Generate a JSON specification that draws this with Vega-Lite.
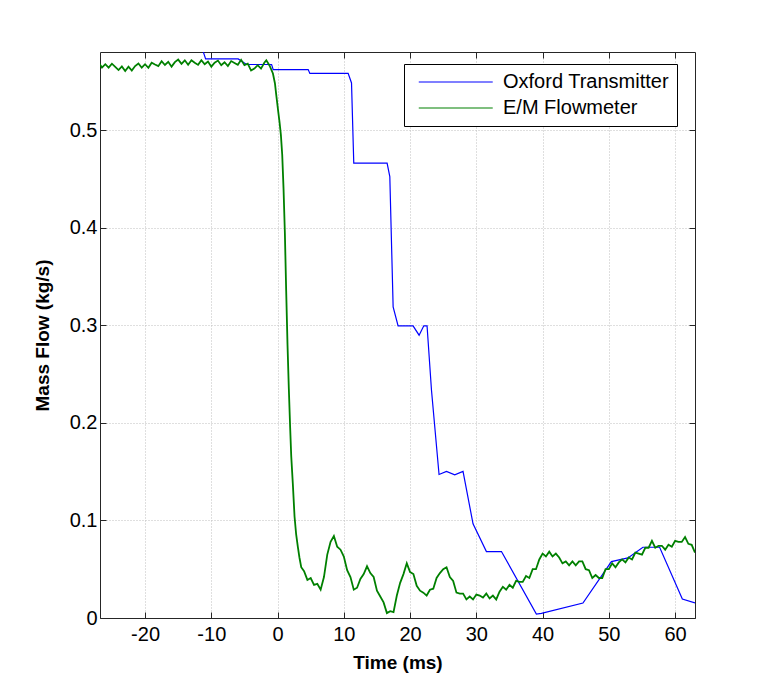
{
  "$schema": "https://vega.github.io/schema/vega-lite/v6.json",
  "width": 595,
  "height": 566,
  "autosize": {"type": "none"},
  "padding": {"left": 100, "top": 52, "right": 73, "bottom": 76},
  "background": "white",
  "datasets": {
    "blue": [
      {"t": -11.3, "v": 0.582},
      {"t": -10.86, "v": 0.5729},
      {"t": -5.94, "v": 0.5729},
      {"t": -4.68, "v": 0.5672},
      {"t": -0.9, "v": 0.5672},
      {"t": -0.66, "v": 0.562},
      {"t": 4.62, "v": 0.562},
      {"t": 4.87, "v": 0.5581},
      {"t": 10.65, "v": 0.5581},
      {"t": 11.16, "v": 0.5483},
      {"t": 11.5, "v": 0.4661},
      {"t": 16.53, "v": 0.4661},
      {"t": 16.94, "v": 0.4524},
      {"t": 17.44, "v": 0.3189},
      {"t": 18.19, "v": 0.2994},
      {"t": 20.45, "v": 0.2994},
      {"t": 21.36, "v": 0.2898},
      {"t": 22.07, "v": 0.2994},
      {"t": 22.56, "v": 0.2994},
      {"t": 23.23, "v": 0.2334},
      {"t": 24.37, "v": 0.1471},
      {"t": 25.49, "v": 0.1502},
      {"t": 26.74, "v": 0.1468},
      {"t": 27.99, "v": 0.1502},
      {"t": 29.5, "v": 0.0965},
      {"t": 31.52, "v": 0.0681},
      {"t": 33.79, "v": 0.0681},
      {"t": 39.06, "v": 0.0041},
      {"t": 39.82, "v": 0.0047},
      {"t": 46.09, "v": 0.0154},
      {"t": 50.38, "v": 0.0578},
      {"t": 52.88, "v": 0.0616},
      {"t": 55.14, "v": 0.0725},
      {"t": 57.66, "v": 0.0725},
      {"t": 61.09, "v": 0.0195},
      {"t": 63.0, "v": 0.0154}
    ],
    "green": [
      {"t": -27, "v": 0.569}, {"t": -26.5, "v": 0.564}, {"t": -26, "v": 0.5675}, {"t": -25.5, "v": 0.564},
      {"t": -25, "v": 0.568}, {"t": -24.5, "v": 0.5648}, {"t": -24, "v": 0.5615}, {"t": -23.5, "v": 0.5652},
      {"t": -23, "v": 0.5605}, {"t": -22.5, "v": 0.565}, {"t": -22, "v": 0.561}, {"t": -21.5, "v": 0.5656},
      {"t": -21, "v": 0.5682}, {"t": -20.5, "v": 0.5639}, {"t": -20, "v": 0.5675}, {"t": -19.5, "v": 0.5638},
      {"t": -19, "v": 0.569}, {"t": -18.5, "v": 0.5672}, {"t": -18, "v": 0.5655}, {"t": -17.5, "v": 0.5706},
      {"t": -17, "v": 0.5667}, {"t": -16.5, "v": 0.5699}, {"t": -16, "v": 0.565}, {"t": -15.5, "v": 0.5696},
      {"t": -15, "v": 0.5722}, {"t": -14.5, "v": 0.5679}, {"t": -14, "v": 0.5715}, {"t": -13.5, "v": 0.567},
      {"t": -13, "v": 0.5715}, {"t": -12.5, "v": 0.569}, {"t": -12, "v": 0.5668}, {"t": -11.5, "v": 0.5716},
      {"t": -11, "v": 0.5674}, {"t": -10.5, "v": 0.5702}, {"t": -10, "v": 0.565}, {"t": -9.5, "v": 0.5691},
      {"t": -9, "v": 0.5712}, {"t": -8.5, "v": 0.5664}, {"t": -8, "v": 0.5695}, {"t": -7.5, "v": 0.5656},
      {"t": -7, "v": 0.5707}, {"t": -6.5, "v": 0.5688}, {"t": -6, "v": 0.5669}, {"t": -5.5, "v": 0.572},
      {"t": -5, "v": 0.5665}, {"t": -4.5, "v": 0.568}, {"t": -4, "v": 0.561}, {"t": -3.5, "v": 0.563},
      {"t": -3, "v": 0.5665}, {"t": -2.5, "v": 0.563}, {"t": -2, "v": 0.569}, {"t": -1.7, "v": 0.5715},
      {"t": -1.2, "v": 0.566}, {"t": -0.7, "v": 0.558}, {"t": -0.4, "v": 0.548}, {"t": -0.2, "v": 0.536},
      {"t": 0.1, "v": 0.519}, {"t": 0.3, "v": 0.508}, {"t": 0.5, "v": 0.495}, {"t": 0.7, "v": 0.475},
      {"t": 0.9, "v": 0.44}, {"t": 1.1, "v": 0.395}, {"t": 1.3, "v": 0.335}, {"t": 1.5, "v": 0.28},
      {"t": 1.7, "v": 0.235}, {"t": 1.9, "v": 0.195}, {"t": 2.06, "v": 0.166}, {"t": 2.3, "v": 0.138},
      {"t": 2.56, "v": 0.104}, {"t": 2.8, "v": 0.086}, {"t": 3.06, "v": 0.073}, {"t": 3.3, "v": 0.062},
      {"t": 3.57, "v": 0.052},
      {"t": 4.0, "v": 0.048}, {"t": 4.5, "v": 0.039}, {"t": 5.0, "v": 0.041}, {"t": 5.5, "v": 0.034},
      {"t": 6.0, "v": 0.035}, {"t": 6.5, "v": 0.029}, {"t": 7.0, "v": 0.042}, {"t": 7.5, "v": 0.065},
      {"t": 8.0, "v": 0.078}, {"t": 8.5, "v": 0.084}, {"t": 9.0, "v": 0.073}, {"t": 9.5, "v": 0.070},
      {"t": 10.0, "v": 0.063}, {"t": 10.5, "v": 0.049}, {"t": 11.0, "v": 0.042}, {"t": 11.5, "v": 0.029},
      {"t": 12.0, "v": 0.031}, {"t": 12.5, "v": 0.040}, {"t": 13.0, "v": 0.045}, {"t": 13.5, "v": 0.053},
      {"t": 14.0, "v": 0.046}, {"t": 14.5, "v": 0.042}, {"t": 15.0, "v": 0.028}, {"t": 15.5, "v": 0.022},
      {"t": 16.0, "v": 0.016}, {"t": 16.5, "v": 0.005}, {"t": 17.0, "v": 0.007}, {"t": 17.5, "v": 0.006},
      {"t": 18.0, "v": 0.023}, {"t": 18.5, "v": 0.036}, {"t": 19.0, "v": 0.045}, {"t": 19.5, "v": 0.056},
      {"t": 20.0, "v": 0.047}, {"t": 20.5, "v": 0.045}, {"t": 21.0, "v": 0.033}, {"t": 21.5, "v": 0.028},
      {"t": 22.0, "v": 0.026}, {"t": 22.5, "v": 0.023}, {"t": 23.0, "v": 0.029}, {"t": 23.5, "v": 0.030},
      {"t": 24.0, "v": 0.041}, {"t": 24.5, "v": 0.046}, {"t": 25.0, "v": 0.050}, {"t": 25.5, "v": 0.052},
      {"t": 26.0, "v": 0.042}, {"t": 26.5, "v": 0.038}, {"t": 27.0, "v": 0.026}, {"t": 27.5, "v": 0.025},
      {"t": 28.0, "v": 0.025}, {"t": 28.5, "v": 0.019}, {"t": 29.0, "v": 0.022}, {"t": 29.5, "v": 0.019},
      {"t": 30.0, "v": 0.024}, {"t": 30.5, "v": 0.023}, {"t": 31.0, "v": 0.021}, {"t": 31.5, "v": 0.025},
      {"t": 32.0, "v": 0.020}, {"t": 32.5, "v": 0.023}, {"t": 33.0, "v": 0.019}, {"t": 33.5, "v": 0.027},
      {"t": 34.0, "v": 0.032}, {"t": 34.5, "v": 0.029}, {"t": 35.0, "v": 0.034}, {"t": 35.5, "v": 0.031},
      {"t": 36.0, "v": 0.038}, {"t": 36.5, "v": 0.037}, {"t": 37.0, "v": 0.037}, {"t": 37.5, "v": 0.043},
      {"t": 38.0, "v": 0.041}, {"t": 38.5, "v": 0.050}, {"t": 39.0, "v": 0.050}, {"t": 39.5, "v": 0.060},
      {"t": 40.0, "v": 0.066}, {"t": 40.5, "v": 0.063}, {"t": 41.0, "v": 0.068}, {"t": 41.5, "v": 0.063},
      {"t": 42.0, "v": 0.066}, {"t": 42.5, "v": 0.062}, {"t": 43.0, "v": 0.056}, {"t": 43.5, "v": 0.058},
      {"t": 44.0, "v": 0.054}, {"t": 44.5, "v": 0.058}, {"t": 45.0, "v": 0.054}, {"t": 45.5, "v": 0.058},
      {"t": 46.0, "v": 0.058}, {"t": 46.5, "v": 0.050}, {"t": 47.0, "v": 0.049}, {"t": 47.5, "v": 0.041},
      {"t": 48.0, "v": 0.044}, {"t": 48.5, "v": 0.041}, {"t": 49.0, "v": 0.041}, {"t": 49.5, "v": 0.050},
      {"t": 50.0, "v": 0.050}, {"t": 50.5, "v": 0.056}, {"t": 51.0, "v": 0.052}, {"t": 51.5, "v": 0.057},
      {"t": 52.0, "v": 0.060}, {"t": 52.5, "v": 0.057}, {"t": 53.0, "v": 0.062}, {"t": 53.5, "v": 0.060},
      {"t": 54.0, "v": 0.067}, {"t": 54.5, "v": 0.066}, {"t": 55.0, "v": 0.065}, {"t": 55.5, "v": 0.072},
      {"t": 56.0, "v": 0.072}, {"t": 56.5, "v": 0.079}, {"t": 57.0, "v": 0.072}, {"t": 57.5, "v": 0.074},
      {"t": 58.0, "v": 0.074}, {"t": 58.5, "v": 0.070}, {"t": 59.0, "v": 0.075}, {"t": 59.5, "v": 0.073},
      {"t": 60.0, "v": 0.079}, {"t": 60.5, "v": 0.078}, {"t": 61.0, "v": 0.078}, {"t": 61.5, "v": 0.083},
      {"t": 62.0, "v": 0.076}, {"t": 62.5, "v": 0.075}, {"t": 63.0, "v": 0.067}
    ]
  },
  "layer": [
    {
      "data": {"name": "blue"},
      "mark": {"type": "line", "strokeWidth": 1.2, "clip": true},
      "encoding": {
        "x": {
          "field": "t",
          "type": "quantitative",
          "scale": {"domain": [-26.8, 63], "nice": false, "zero": false},
          "axis": {
            "orient": "bottom",
            "title": "Time (ms)",
            "values": [-20, -10, 0, 10, 20, 30, 40, 50, 60],
            "labelExpr": "toString(datum.value)",
            "tickSize": -6,
            "labelPadding": 12,
            "titlePadding": 9
          }
        },
        "y": {
          "field": "v",
          "type": "quantitative",
          "scale": {"domain": [0, 0.58], "nice": false},
          "axis": {
            "orient": "left",
            "title": "Mass Flow (kg/s)",
            "values": [0, 0.1, 0.2, 0.3, 0.4, 0.5],
            "labelExpr": "toString(datum.value)",
            "tickSize": -6,
            "labelPadding": 9,
            "titlePadding": 17
          }
        },
        "color": {
          "datum": "Oxford Transmitter",
          "type": "nominal",
          "scale": {"domain": ["Oxford Transmitter", "E/M Flowmeter"], "range": ["#0000ff", "#008000"]},
          "legend": {
            "title": null,
            "orient": "none",
            "legendX": 304,
            "legendY": 12,
            "symbolType": "M-0.35,0L7.65,0",
            "symbolSize": 342,
            "symbolStrokeWidth": 1.2,
            "labelFontSize": 20,
            "labelFont": "Liberation Sans",
            "labelColor": "black",
            "labelLimit": 400,
            "labelOffset": 71,
            "rowPadding": 6,
            "padding": 8,
            "fillColor": "white",
            "strokeColor": "black"
          }
        }
      }
    },
    {
      "data": {"name": "green"},
      "mark": {"type": "line", "strokeWidth": 1.8, "clip": true},
      "encoding": {
        "x": {
          "field": "t",
          "type": "quantitative",
          "axis": {"orient": "top", "title": null, "labels": false, "grid": false, "values": [-20, -10, 0, 10, 20, 30, 40, 50, 60], "tickSize": -6}
        },
        "y": {
          "field": "v",
          "type": "quantitative",
          "axis": {"orient": "right", "title": null, "labels": false, "grid": false, "values": [0, 0.1, 0.2, 0.3, 0.4, 0.5], "tickSize": -6}
        },
        "color": {"datum": "E/M Flowmeter", "type": "nominal"}
      }
    }
  ],
  "resolve": {"axis": {"x": "independent", "y": "independent"}},
  "config": {
    "font": "Liberation Sans",
    "view": {"stroke": null},
    "axis": {
      "domainColor": "#262626",
      "domainWidth": 1,
      "tickColor": "#262626",
      "tickWidth": 1,
      "labelFont": "Liberation Sans",
      "labelFontSize": 20,
      "labelColor": "black",
      "titleFont": "Liberation Sans",
      "titleFontSize": 19,
      "titleFontWeight": "bold",
      "titleColor": "black",
      "grid": true,
      "gridColor": "#bfbfbf",
      "gridDash": [1, 2],
      "gridWidth": 1
    }
  }
}
